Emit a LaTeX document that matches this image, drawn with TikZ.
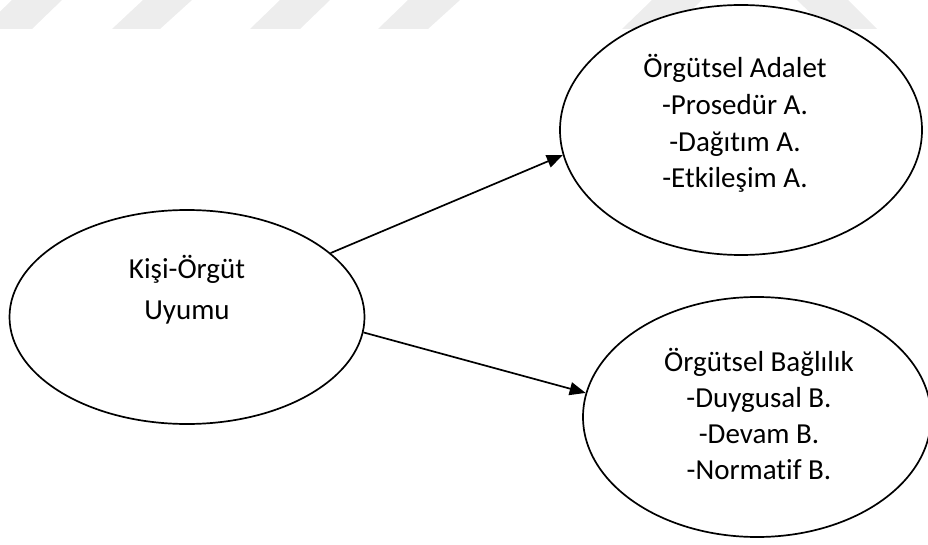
\documentclass[tikz,border=0pt]{standalone}
\usepackage{fontspec}
\setmainfont{Carlito}[Ligatures=NoCommon]
\usetikzlibrary{shapes.geometric,arrows.meta}
\definecolor{wmgray}{RGB}{237,237,237}
\tikzset{
  band/.style={fill=wmgray, draw=none},
  bubble/.style={ellipse, draw=black, fill=white, line width=1.7pt, inner sep=0pt},
  label/.style={align=center, anchor=base, inner sep=0pt, text=black},
  link/.style={line width=1.7pt, -{Triangle[length=16pt,width=13pt]}}
}
\begin{document}
\begin{tikzpicture}[x=1pt, y=-1pt]
  \useasboundingbox (0,0) rectangle (928,545);
  % slanted bands along the top edge
  \fill[band] (-18,29) -- (32,29) -- (62,0) -- (12,0) -- cycle;
  \fill[band] (112,29) -- (160,29) -- (192,0) -- (143,0) -- cycle;
  \fill[band] (250,29) -- (300,29) -- (330,0) -- (280,0) -- cycle;
  \fill[band] (378,29) -- (428,29) -- (460,0) -- (408,0) -- cycle;
  \fill[band] (622,29) -- (672,29) -- (702,0) -- (652,0) -- cycle;
  \fill[band] (797,0) -- (848,0) -- (877,29) -- (827,29) -- cycle;

  % ellipses
  \node[bubble, minimum width=355pt, minimum height=214pt] (kisi) at (187,317) {};
  \node[bubble, minimum width=362pt, minimum height=250pt] (adalet) at (741,130) {};
  \node[bubble, minimum width=348pt, minimum height=240pt] (baglilik) at (757,417) {};

  % texts, each placed by the baseline of its last line
  \node[label, font=\fontsize{29}{41}\selectfont] (kisitext) at (187,319)
    {Kişi-Örgüt\\Uyumu};
  \node[label, font=\fontsize{29}{36.7}\selectfont] (adalettext) at (735,188)
    {Örgütsel Adalet\\-Prosedür A.\\-Dağıtım A.\\-Etkileşim A.};
  \node[label, font=\fontsize{29}{36}\selectfont] (bagliliktext) at (759,479)
    {Örgütsel Bağlılık\\-Duygusal B.\\-Devam B.\\-Normatif B.};

  % connectors
  \draw[link] (kisi.24) -- (adalet.188);
  \draw[link] (kisi.-5) -- (baglilik.172);
\end{tikzpicture}
\end{document}
